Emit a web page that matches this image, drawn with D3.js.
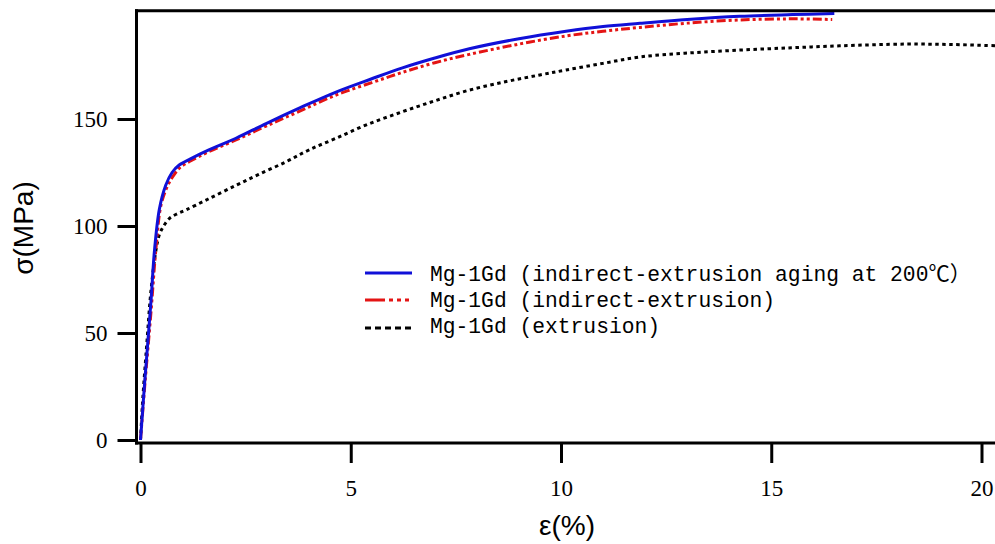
<!DOCTYPE html>
<html>
<head>
<meta charset="utf-8">
<script src="https://cdn.jsdelivr.net/npm/d3@7"></script>
<style>
  body { margin: 0; background: #fff; }
</style>
</head>
<body>
<svg id="chart"></svg>
<script>
// strain (%) and stress (MPa)
const agedStrain = [0, 0.1, 0.25, 0.33, 0.45, 0.6, 0.75, 0.92, 1.2, 1.6, 2.27, 3.0, 3.8, 4.65, 5.5, 6.23, 7.0, 7.82, 9.0, 10.12, 11.0, 11.88, 13.0, 14.25, 15.5, 16.5];
const agedStress = [0, 27, 65, 88, 108, 119, 125, 128.5, 131.5, 135.3, 141, 148, 155.3, 162.6, 168.8, 173.9, 178.5, 182.8, 187.5, 191, 193.2, 194.7, 196.5, 198, 198.8, 199.3];

const indStrain = [0, 0.1, 0.25, 0.37, 0.49, 0.65, 0.8, 0.95, 1.2, 1.6, 2.27, 3.0, 3.8, 4.65, 5.5, 6.23, 7.0, 7.82, 9.0, 10.12, 11.0, 11.88, 13.0, 14.25, 15.5, 16.45];
const indStress = [0, 25, 60, 90, 110, 119, 124, 127.5, 130.5, 134.5, 140.2, 146.8, 153.8, 161.2, 167, 171.8, 176.3, 180.2, 185, 188.8, 191, 192.8, 194.8, 196.3, 196.8, 196.5];

const extStrain = [0, 0.05, 0.15, 0.25, 0.37, 0.45, 0.55, 0.69, 0.85, 1.08, 1.6, 2.27, 2.8, 3.46, 4.0, 4.65, 5.4, 6.23, 7.0, 7.82, 8.7, 9.5, 10.12, 11.0, 11.88, 13.0, 14.25, 15.5, 16.63, 18.2, 19.3, 20.4];
const extStress = [0, 18, 45, 70, 89, 96, 100, 103.6, 105.5, 107.5, 112.5, 119, 124, 130, 135.5, 141, 147.5, 153.4, 158.5, 163.5, 167.5, 170.6, 172.9, 176, 179, 180.8, 182.2, 183.3, 184.2, 185, 184.8, 184.2];

const legendLabels = [
    'Mg-1Gd (indirect-extrusion aging at 200\u2103\uFF09',
    'Mg-1Gd (indirect-extrusion)',
    'Mg-1Gd (extrusion)'
];
const xTicks = [0, 5, 10, 15, 20];
const yTicks = [0, 50, 100, 150];

const width = 995;
const height = 544;

let svg = d3.select('#chart')
    .attr('width', width)
    .attr('height', height);

let x = d3.scaleLinear().domain([0, 20]).range([140.5, 981.5]);
let y = d3.scaleLinear().domain([0, 200]).range([440, 12]);

const plotLeft = 136.5, plotTop = 10.8, plotBottom = 443;

// clip for the curves
svg.append('clipPath').attr('id', 'plot-clip')
  .append('rect')
    .attr('x', plotLeft + 1.5).attr('y', plotTop)
    .attr('width', width - plotLeft).attr('height', plotBottom - plotTop);

// series
let series = [
    {xs: agedStrain, ys: agedStress, color: '#1010d8', dash: null},
    {xs: indStrain, ys: indStress, color: '#e41414', dash: '9,3,3,3,3,3'},
    {xs: extStrain, ys: extStress, color: '#000000', dash: '3.5,3.5'}
];

let line = d3.line()
    .x(d => x(d[0]))
    .y(d => y(d[1]))
    .curve(d3.curveCatmullRom.alpha(0.5));

let plot = svg.append('g').attr('clip-path', 'url(#plot-clip)');
// draw extrusion first so blue stays on top
series.slice().reverse().forEach(s => {
    plot.append('path')
        .datum(s.xs.map((v, i) => [v, s.ys[i]]))
        .attr('d', line)
        .attr('fill', 'none')
        .attr('stroke', s.color)
        .attr('stroke-width', 3)
        .attr('stroke-dasharray', s.dash);
});

// frame lines
svg.append('line')
    .attr('x1', plotLeft).attr('x2', plotLeft)
    .attr('y1', plotTop - 1.5).attr('y2', plotBottom + 1.5)
    .attr('stroke', '#000').attr('stroke-width', 3);
svg.append('line')
    .attr('x1', plotLeft - 1.5).attr('x2', width)
    .attr('y1', plotTop).attr('y2', plotTop)
    .attr('stroke', '#000').attr('stroke-width', 3);
svg.append('line')
    .attr('x1', plotLeft - 1.5).attr('x2', width)
    .attr('y1', plotBottom).attr('y2', plotBottom)
    .attr('stroke', '#000').attr('stroke-width', 3);

// y axis
let yAxis = svg.append('g')
    .attr('transform', 'translate(' + plotLeft + ',0)')
    .call(d3.axisLeft(y).tickValues(yTicks).tickSize(19).tickPadding(10).tickSizeOuter(0));
yAxis.select('.domain').remove();
yAxis.selectAll('line').attr('stroke-width', 3);
yAxis.selectAll('text')
    .attr('font-family', '"Liberation Serif", serif')
    .attr('font-size', 23)
    .attr('fill', '#000');

// x axis
let xAxis = svg.append('g')
    .attr('transform', 'translate(0,' + plotBottom + ')')
    .call(d3.axisBottom(x).tickValues(xTicks).tickSize(20).tickPadding(17).tickSizeOuter(0));
xAxis.select('.domain').remove();
xAxis.selectAll('line').attr('stroke-width', 3);
xAxis.selectAll('text')
    .attr('font-family', '"Liberation Serif", serif')
    .attr('font-size', 23)
    .attr('fill', '#000');

// axis titles
svg.append('text')
    .attr('transform', 'translate(33,228) rotate(-90)')
    .attr('text-anchor', 'middle')
    .attr('font-family', '"Liberation Sans", Arial, sans-serif')
    .attr('font-size', 28)
    .text('\u03C3(MPa)');

svg.append('text')
    .attr('x', 567).attr('y', 535)
    .attr('text-anchor', 'middle')
    .attr('font-family', '"Liberation Sans", Arial, sans-serif')
    .attr('font-size', 28)
    .text('\u03B5(%)');

// legend
const legendLineY = [273, 300, 328];
const legendTextY = [281, 307, 333];
const legendDash = [null, '20,4,4,4,4,4,4,3', '6,4'];
let legend = svg.append('g');
series.forEach((s, i) => {
    legend.append('line')
        .attr('x1', 365).attr('x2', 412)
        .attr('y1', legendLineY[i]).attr('y2', legendLineY[i])
        .attr('stroke', s.color)
        .attr('stroke-width', 3)
        .attr('stroke-dasharray', legendDash[i]);
    let t = legend.append('text')
        .attr('x', 430).attr('y', legendTextY[i])
        .attr('font-family', '"Liberation Mono", monospace')
        .attr('font-size', 21.3)
        .attr('fill', '#000');
    // ascii runs in mono, full-width symbols in CJK font
    legendLabels[i].match(/[\x00-\x7F]+|[^\x00-\x7F]+/g).forEach(run => {
        let span = t.append('tspan').text(run);
        if (/[^\x00-\x7F]/.test(run)) span.attr('font-family', '"Noto Sans CJK SC", sans-serif');
    });
});
</script>
</body>
</html>
